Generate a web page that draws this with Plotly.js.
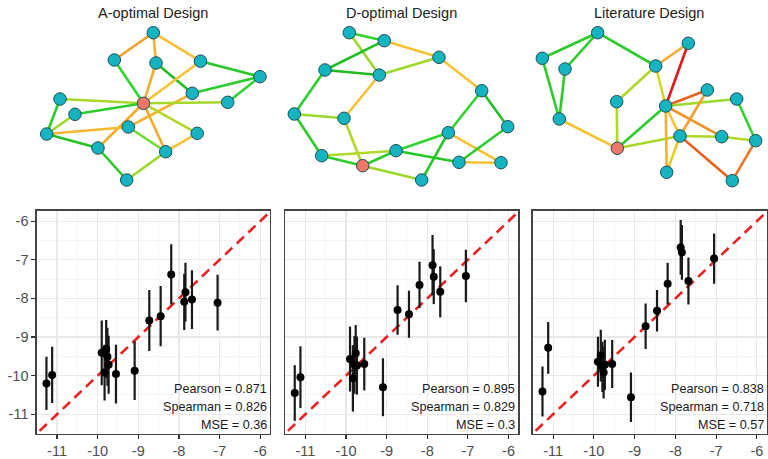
<!DOCTYPE html>
<html><head><meta charset="utf-8">
<script src="https://cdn.plot.ly/plotly-3.0.1.min.js"></script>
<style>html,body{margin:0;padding:0;background:#fff;overflow:hidden}#chart{width:768px;height:459px}</style>
</head><body><div id="chart"></div>
<script>
// ---------- data ----------
const designs = ["A-optimal Design", "D-optimal Design", "Literature Design"];
const observed = [-11.26, -11.12, -9.90, -9.83, -9.79, -9.76, -9.73, -9.55, -9.09, -8.73, -8.45, -8.19, -7.87, -7.84, -7.68, -7.05];

const predA = [-10.20, -9.98, -9.41, -9.92, -9.31, -9.51, -9.72, -9.96, -9.87, -8.57, -8.46, -7.38, -8.09, -7.84, -8.03, -8.11];
const errA  = [0.69, 0.73, 0.84, 0.72, 0.75, 0.75, 0.75, 0.76, 0.76, 0.79, 0.78, 0.78, 0.73, 0.76, 0.76, 0.72];
const predD = [-10.45, -10.04, -9.57, -10.07, -9.72, -9.42, -9.74, -9.70, -10.30, -8.30, -8.41, -7.65, -7.14, -7.44, -7.83, -7.42];
const errD  = [0.72, 0.80, 0.84, 0.86, 0.75, 0.73, 0.75, 0.68, 0.75, 0.64, 0.61, 0.60, 0.78, 0.71, 0.66, 0.68];
const predL = [-10.41, -9.28, -9.64, -9.48, -9.77, -9.92, -9.72, -9.70, -10.56, -8.72, -8.32, -7.62, -6.68, -6.81, -7.55, -6.97];
const errL  = [0.65, 0.67, 0.65, 0.67, 0.65, 0.67, 0.65, 0.62, 0.64, 0.59, 0.54, 0.54, 0.71, 0.71, 0.61, 0.65];

const pearson  = [0.871, 0.895, 0.838];
const spearman = [0.826, 0.829, 0.718];
const mse      = [0.36, 0.3, 0.57];

const tickVals   = [-11, -10, -9, -8, -7, -6];
const tickLabels = ["-11", "-10", "-9", "-8", "-7", "-6"];
const identityLine = [-12, -5];

// network layouts (layout coordinates) and edges [from, to, weight 0=green..1=red]
const nodeAx = [153.3,114.3,156,200.5,260,192.3,143.5,227.7,60,75,128.3,46.7,197.2,98,165.7,126.7];
const nodeAy = [32.7,60,63,61.2,76.7,93.3,103.3,102.3,99,114.3,127,134,133.3,148,151.7,180];
const centerA = 6;
const edgesA = [[0,1,0.65],[0,2,0.6],[0,3,0.55],[1,6,0.15],[2,6,0.62],[2,5,0.05],[3,6,0.55],[3,4,0.1],[4,5,0.12],[4,7,0.15],[5,10,0.6],[6,8,0.33],[6,9,0.12],[6,7,0.33],[6,12,0.36],[6,14,0.62],[6,13,0.62],[8,11,0.12],[9,11,0.3],[11,10,0.58],[11,13,0.08],[13,15,0.1],[15,14,0.3],[10,14,0.25],[12,14,0.55]];

const nodeDx = [93.3,128.3,183,69,123.3,225.7,38.3,88,251.7,192.3,140,65.7,203,245,106.7,165.7];
const nodeDy = [32.7,40.7,57.3,70,75,90.7,114,118.3,126.7,132.7,150.7,155.7,162.3,162.7,165.7,180];
const centerD = 14;
const edgesD = [[0,1,0.15],[0,4,0.3],[1,3,0.06],[1,2,0.55],[3,4,0.05],[4,2,0.3],[3,6,0.12],[4,7,0.55],[6,7,0.3],[6,11,0.12],[7,14,0.35],[11,14,0.12],[11,10,0.35],[14,10,0.12],[14,15,0.3],[10,9,0.15],[10,12,0.1],[2,5,0.55],[5,9,0.15],[5,8,0.07],[9,15,0.1],[9,13,0.55],[8,12,0.12],[12,13,0.55]];

const nodeLx = [85.7,176.3,30.3,53,143.7,195.3,224.7,104.7,153.7,47.3,168,209.7,243.7,105.3,154.7,220.3];
const nodeLy = [32.7,43.3,58.3,69,66,90,99,101.7,106,119,136,136.7,140.7,148.3,172.3,180.7];
const centerL = 13;
const edgesL = [[0,2,0.12],[0,3,0.12],[0,4,0.12],[2,9,0.12],[3,9,0.12],[9,13,0.55],[4,1,0.62],[4,7,0.35],[4,8,0.45],[1,8,1.0],[7,13,0.35],[13,8,0.12],[13,10,0.33],[8,5,0.8],[8,6,0.3],[8,11,0.68],[8,10,0.55],[8,14,0.6],[10,14,0.5],[10,5,0.65],[10,11,0.35],[11,12,0.35],[6,12,0.15],[10,15,0.8],[15,12,0.75]];

// ---------- helpers ----------
const edgePalette = [[0,'#1aae1a'],[0.15,'#2fd42f'],[0.3,'#9bd92b'],[0.45,'#d6d522'],[0.55,'#f5c232'],[0.65,'#f1a129'],[0.8,'#e8621f'],[1,'#e0161a']];
function hex2rgb(h){return [parseInt(h.substr(1,2),16),parseInt(h.substr(3,2),16),parseInt(h.substr(5,2),16)];}
function edgeColor(w){
  for(let i=1;i<edgePalette.length;i++){
    if(w<=edgePalette[i][0]){
      const [a0,c0]=edgePalette[i-1],[a1,c1]=edgePalette[i];
      const t=(w-a0)/(a1-a0), p=hex2rgb(c0), q=hex2rgb(c1);
      return 'rgb('+p.map((v,k)=>Math.round(v+(q[k]-v)*t)).join(',')+')';
    }
  }
  return edgePalette[edgePalette.length-1][1];
}

const W=768,H=459;
const font='"Liberation Sans", Arial, Helvetica, sans-serif';
const traces=[];
const layout={width:W,height:H,margin:{l:0,r:0,t:0,b:0},paper_bgcolor:'#fff',plot_bgcolor:'rgba(0,0,0,0)',
  showlegend:false,font:{family:font},annotations:[]};

// ---------- scatter panels ----------
const preds=[predA,predD,predL], errs=[errA,errD,errL];
const xDom=[[36.7/W,270/W],[285/W,518.3/W],[532.7/W,766.7/W]];
const yDom=[1-434/H,1-210.7/H];
for(let p=0;p<3;p++){
  const xa=p===0?'x':'x'+(p+1), ya=p===0?'y':'y'+(p+1);
  const xk=p===0?'xaxis':'xaxis'+(p+1), yk=p===0?'yaxis':'yaxis'+(p+1);
  layout[xk]={domain:xDom[p],range:[-11.5,-5.76],anchor:ya,tickmode:'array',tickvals:tickVals,ticktext:tickLabels,
    ticks:'outside',ticklen:4,tickwidth:1.1,tickcolor:'#333',ticklabelstandoff:-1,showgrid:true,gridcolor:'#e8e8e8',gridwidth:1.1,
    minor:{tickmode:'linear',tick0:-11.5,dtick:1,showgrid:true,gridcolor:'#f3f3f3',gridwidth:0.8,ticks:''},
    showline:true,mirror:true,linecolor:'#444',linewidth:1.3,zeroline:false,fixedrange:true,
    tickfont:{family:font,size:14.5,color:'#4d4d4d'}};
  layout[yk]={domain:yDom,range:[-11.51,-5.73],anchor:xa,tickmode:'array',tickvals:tickVals,ticktext:tickLabels,
    ticks:p===0?'outside':'',ticklen:4,tickwidth:1.1,tickcolor:'#333',showticklabels:p===0,showgrid:true,gridcolor:'#e8e8e8',gridwidth:1.1,
    minor:{tickmode:'linear',tick0:-11.5,dtick:1,showgrid:true,gridcolor:'#f3f3f3',gridwidth:0.8,ticks:''},
    showline:true,mirror:true,linecolor:'#444',linewidth:1.3,zeroline:false,fixedrange:true,
    tickfont:{family:font,size:14.5,color:'#4d4d4d'}};
  traces.push({type:'scatter',mode:'lines',x:identityLine,y:identityLine,xaxis:xa,yaxis:ya,
    line:{color:'#e62222',width:2.6,dash:'10px,6px'},hoverinfo:'skip'});
  traces.push({type:'scatter',mode:'markers',x:observed,y:preds[p],xaxis:xa,yaxis:ya,
    marker:{color:'#000',size:8},
    error_y:{type:'data',array:errs[p],visible:true,thickness:2.2,width:0,color:'#1a1a1a'}});
  const lines=['Pearson = '+pearson[p],'Spearman = '+spearman[p],'MSE = '+mse[p]];
  const ys=[1-389/H,1-407/H,1-424.5/H];
  lines.forEach((t,i)=>layout.annotations.push({text:t,xref:xa+' domain',x:1,xanchor:'right',xshift:-1,
    yref:'paper',y:ys[i],yanchor:'middle',showarrow:false,font:{family:font,size:12.6,color:'#1a1a1a'}}));
}

// ---------- network panels ----------
const nets=[[nodeAx,nodeAy,edgesA,centerA],[nodeDx,nodeDy,edgesD,centerD],[nodeLx,nodeLy,edgesL,centerL]];
const netWidth=[270,256,256];
const titleX=[153,401,649];
nets.forEach(([nx,ny,edges,center],k)=>{
  const n=k+4, xa='x'+n, ya='y'+n, x0=k*256;
  layout['xaxis'+n]={domain:[x0/W,Math.min(x0+netWidth[k],W)/W],range:[0,netWidth[k]],visible:false,anchor:ya,fixedrange:true};
  layout['yaxis'+n]={domain:[1-195/H,1],range:[195,0],visible:false,anchor:xa,fixedrange:true};
  edges.forEach(([a,b,w])=>traces.push({type:'scatter',mode:'lines',x:[nx[a],nx[b]],y:[ny[a],ny[b]],
    xaxis:xa,yaxis:ya,cliponaxis:false,line:{color:edgeColor(w),width:2.6},hoverinfo:'skip'}));
  traces.push({type:'scatter',mode:'markers',x:nx,y:ny,xaxis:xa,yaxis:ya,cliponaxis:false,
    marker:{size:12.5,color:nx.map((_,i)=>i===center?'#f0766c':'#16b4c0'),line:{color:'#1d4f55',width:1}},hoverinfo:'skip'});
  layout.annotations.push({text:designs[k],xref:'paper',x:titleX[k]/W,xanchor:'center',yref:'paper',y:1-12.7/H,yanchor:'middle',
    showarrow:false,font:{family:font,size:14.5,color:'#222'}});
});

Plotly.newPlot('chart',traces,layout,{staticPlot:true,displayModeBar:false});
</script></body></html>
